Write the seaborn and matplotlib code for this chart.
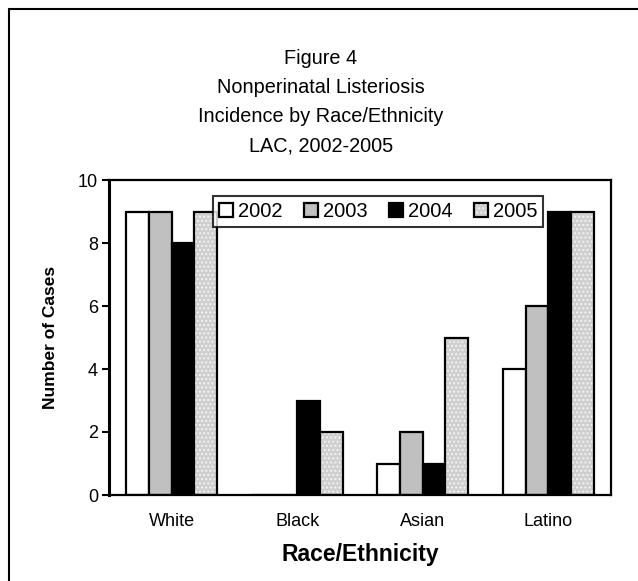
import pandas as pd
import seaborn as sns
import matplotlib.pyplot as plt
from matplotlib.patches import Rectangle
from matplotlib.colors import to_rgba

groups = ["White", "Black", "Asian", "Latino"]
years = ["2002", "2003", "2004", "2005"]
cases_2002 = [9, 0, 1, 4]
cases_2003 = [9, 0, 2, 6]
cases_2004 = [8, 3, 1, 9]
cases_2005 = [9, 2, 5, 9]

df = pd.DataFrame({"Race/Ethnicity": groups,
                   "2002": cases_2002, "2003": cases_2003,
                   "2004": cases_2004, "2005": cases_2005})
df = df.melt(id_vars="Race/Ethnicity", var_name="Year", value_name="Cases")

colores = ["#ffffff", "#c0c0c0", "#000000", "#cfcfcf"]

sns.set_style("white")
plt.rcParams["font.family"] = ["Liberation Sans", "DejaVu Sans"]
plt.rcParams.update({"text.color": "black", "axes.labelcolor": "black",
                     "xtick.color": "black", "ytick.color": "black"})

fig = plt.figure(figsize=(6.38, 5.81), dpi=100)
ax = fig.add_axes([109 / 638, 1 - 495 / 581, 502 / 638, 315 / 581])

sns.barplot(data=df, x="Race/Ethnicity", y="Cases", hue="Year", order=groups,
            hue_order=years, palette=colores, width=0.725, gap=0,
            edgecolor="black", linewidth=1.6, saturation=1, ax=ax)

# relleno punteado para 2005
for p in ax.containers[3].patches:
    p.set_hatch("....")
    p._hatch_color = to_rgba("#f2f2f2")

ax.set_ylim(0, 10)
ax.set_yticks(range(0, 11, 2))
ax.tick_params(axis="y", direction="out", length=5, width=1.5, labelsize=13, pad=3, left=True)
ax.tick_params(axis="x", length=0, labelsize=13, pad=13)
for s in ax.spines.values():
    s.set_visible(True)
    s.set_color("black")
    s.set_linewidth(1.6)
ax.spines["left"].set_linewidth(2.2)

ax.set_ylabel("Number of Cases", fontsize=12.5, weight="bold", labelpad=14)
ax.set_xlabel("Race/Ethnicity", fontsize=16.5, weight="bold", labelpad=9)

leg = ax.legend(loc="upper left", bbox_to_anchor=(0.207, 0.95), ncol=4,
                fontsize=14.5, frameon=True, fancybox=False, handlelength=0.7,
                handleheight=0.7, handletextpad=0.25, columnspacing=1.05,
                borderpad=0.3, borderaxespad=0)
leg.get_frame().set_edgecolor("black")
leg.get_frame().set_linewidth(1.5)
for h in leg.legend_handles:
    h.set_edgecolor("black")
    h.set_linewidth(1.6)
leg.legend_handles[3].set_hatch("....")
leg.legend_handles[3]._hatch_color = to_rgba("#f2f2f2")

titulo = ["Figure 4", "Nonperinatal Listeriosis",
          "Incidence by Race/Ethnicity", "LAC, 2002-2005"]
for i, linea in enumerate(titulo):
    fig.text(0.503, 1 - (58 + 29.5 * i) / 581, linea, ha="center", va="center", fontsize=14.3)

fig.patches.append(Rectangle((9 / 638, -0.1), 1.2, 1.1 - 9 / 581, transform=fig.transFigure,
                             fill=False, edgecolor="black", linewidth=1.5))

plt.savefig("out.png", dpi=100)
